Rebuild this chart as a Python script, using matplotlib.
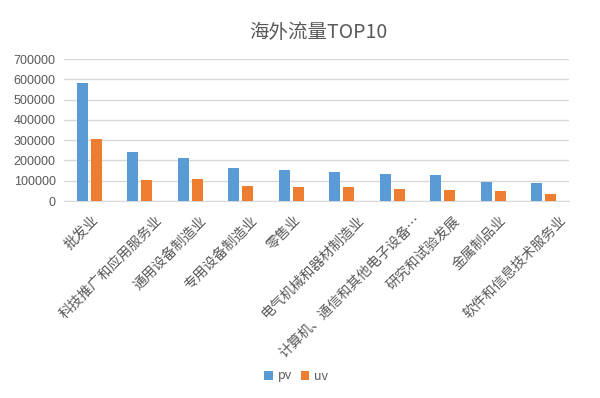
import numpy as np
import matplotlib
matplotlib.use('Agg')
import matplotlib.pyplot as plt
from matplotlib.transforms import ScaledTranslation

plt.rcParams['font.family'] = ['Noto Sans CJK SC', 'DejaVu Sans']

# data
categories = ['批发业', '科技推广和应用服务业', '通用设备制造业', '专用设备制造业', '零售业',
              '电气机械和器材制造业', '计算机、通信和其他电子设备…', '研究和试验发展',
              '金属制品业', '软件和信息技术服务业']
pv = [583000, 240000, 212000, 162000, 154000, 143000, 133000, 126000, 95000, 87000]
uv = [305000, 102000, 108000, 74000, 67000, 69000, 61000, 56000, 48000, 33000]
yticks = [0, 100000, 200000, 300000, 400000, 500000, 600000, 700000]

fig = plt.figure(figsize=(6, 3.98), dpi=100)
ax = fig.add_axes([64 / 600, 1 - 201 / 398, 505 / 600, 142 / 398])

x = np.arange(len(categories))
w = 0.22
ax.bar(x - 0.14, pv, w, color='#5b9bd5', label='pv', zorder=3)
ax.bar(x + 0.14, uv, w, color='#ed7d31', label='uv', zorder=3)

ax.set_xlim(-0.5, len(categories) - 0.5)
ax.set_ylim(0, 700000)
ax.set_yticks(yticks)
ax.set_yticklabels([str(v) for v in yticks], fontsize=9, color='#595959',
                   family=['Liberation Sans', 'DejaVu Sans'])
ax.yaxis.grid(True, color='#d9d9d9', linewidth=1, zorder=0)
ax.set_xticks(x)
ax.set_xticklabels(categories, rotation=45, ha='right', va='top',
                   rotation_mode='anchor', fontsize=10, color='#595959')
ax.tick_params(length=0, pad=6)

# excel pushes longer rotated labels a little to the right
for lbl in ax.get_xticklabels():
    dx = 1.8 * len(lbl.get_text()) - 3
    lbl.set_transform(lbl.get_transform() +
                      ScaledTranslation(dx / 100, -4 / 100, fig.dpi_scale_trans))

for s in ['top', 'right', 'left']:
    ax.spines[s].set_visible(False)
ax.spines['bottom'].set_color('#d9d9d9')

fig.text(318 / 600, 1 - 32 / 398, '海外流量TOP10', ha='center', va='center',
         fontsize=14, color='#595959')

fig.legend(loc='center', bbox_to_anchor=(296 / 600, 1 - 376 / 398), ncol=2,
           frameon=False, fontsize=9, handlelength=0.7, handleheight=0.7,
           columnspacing=0.7, handletextpad=0.4, labelcolor='#595959')

fig.savefig('out.png', dpi=100)
